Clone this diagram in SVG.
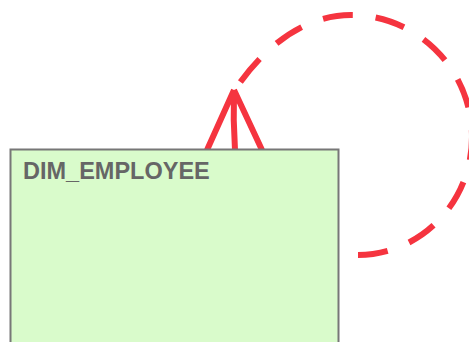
<svg xmlns="http://www.w3.org/2000/svg" width="469" height="342" viewBox="0 0 469 342">
<style>
.node rect{fill:#d9fbcb;stroke:#777;stroke-width:2}
.node text{font-family:"Liberation Sans",Arial,sans-serif;font-weight:bold;font-size:23.5px;fill:#666}
.conn path{fill:none;stroke:#f5343f;stroke-width:6}
</style>
<rect width="469" height="342" fill="#fff"/>
<g id="connectors" class="conn">
<path d="M234 91 C265 45 305 15 351 15 C418 15 472 70 472 137 C472 203 420 255 358 255" pathLength="518" stroke-dasharray="30 23" stroke-dashoffset="42"/>
<path d="M234 90 L207 150 M234 90 Q233 120 235 150 M234 90 L262 150"/>
</g>
<g id="DIM_EMPLOYEE" class="node">
<rect x="10.5" y="149.5" width="328" height="200"/>
<text x="23" y="179">DIM_EMPLOYEE</text>
</g>
</svg>
